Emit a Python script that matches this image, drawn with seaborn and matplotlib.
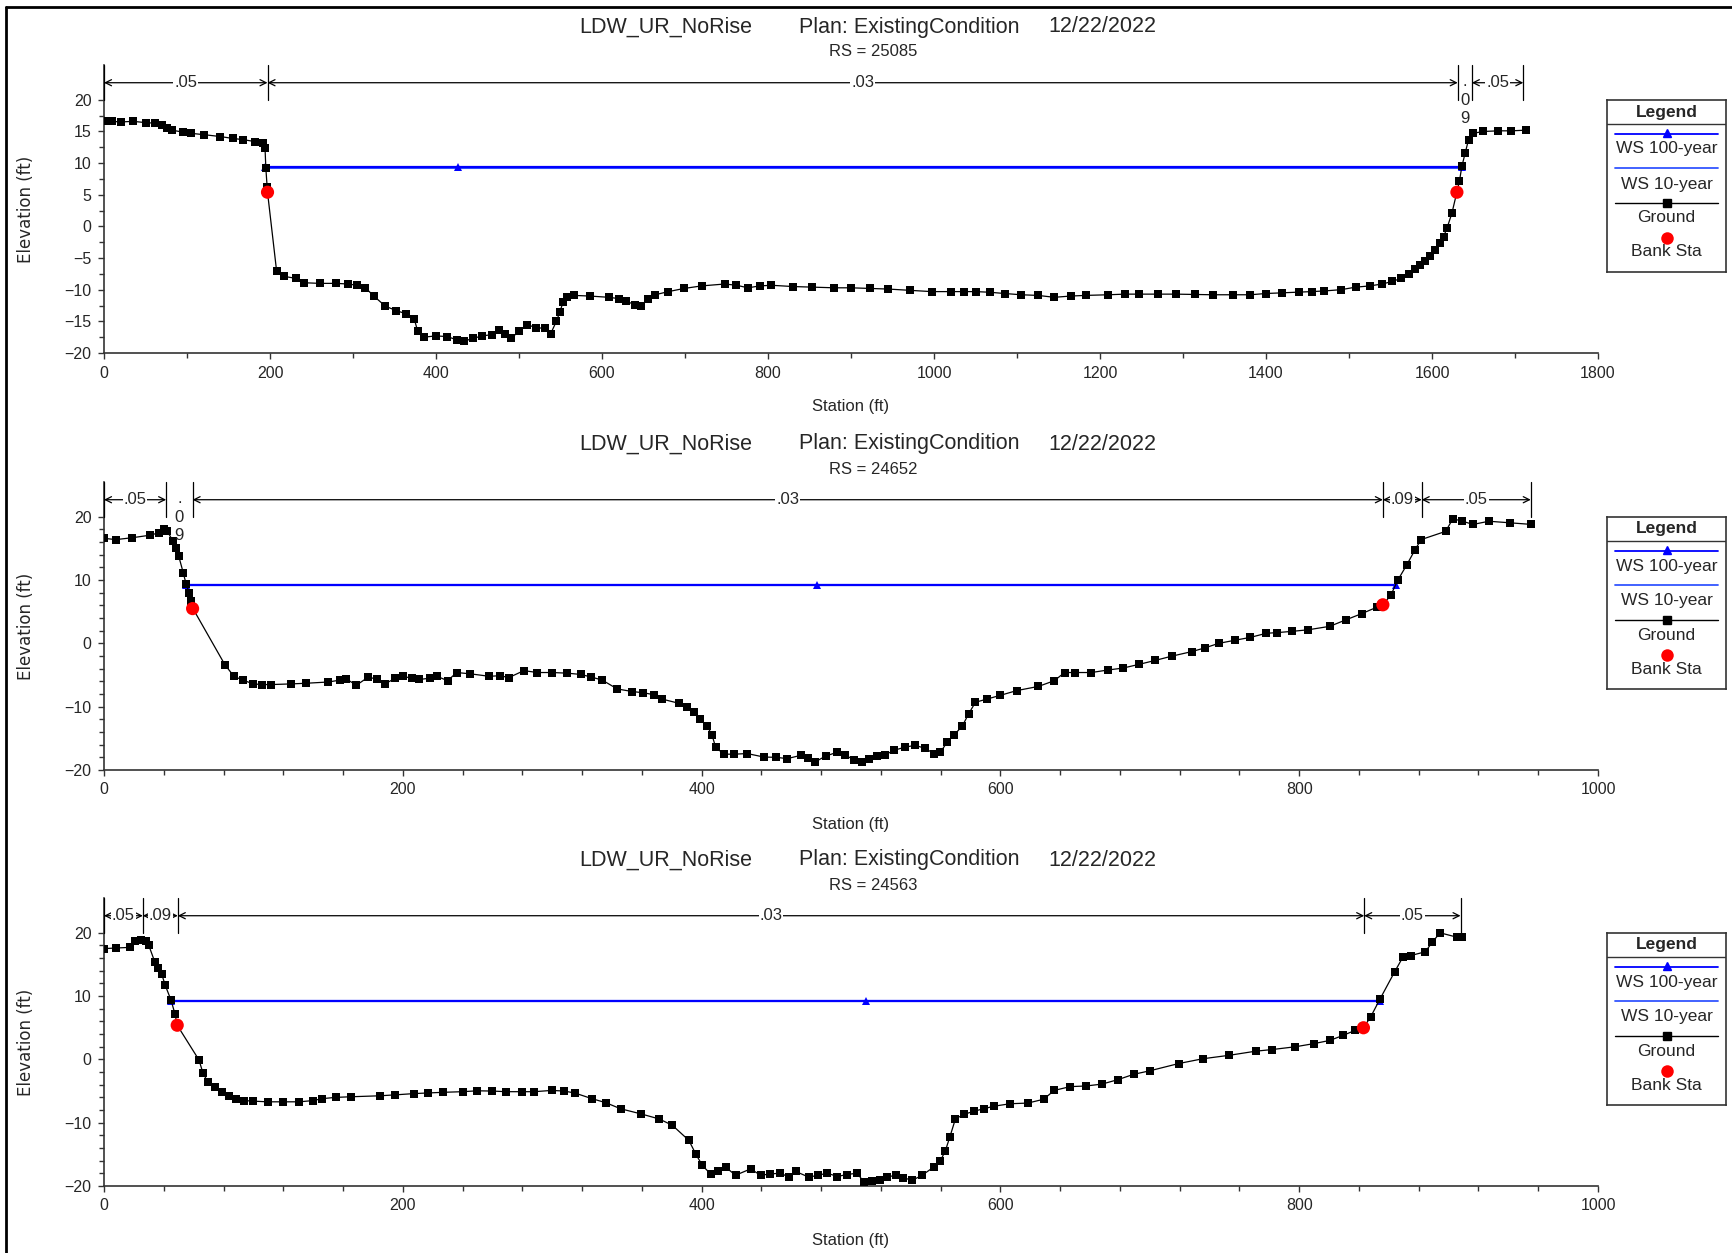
import matplotlib
matplotlib.use("Agg")
import matplotlib.pyplot as plt
from matplotlib.lines import Line2D
from matplotlib.ticker import MultipleLocator, FixedLocator
import seaborn as sns

plan_title = "LDW_UR_NoRise"
plan_name = "Plan: ExistingCondition"
plan_date = "12/22/2022"
legend_labels = ["WS 100-year", "WS 10-year", "Ground", "Bank Sta"]

# RS 25085
rs_1 = "25085"
sta_1 = [0, 10, 20, 35, 50, 62, 70, 76, 82, 95, 105, 120, 140, 155, 168, 182, 192, 194, 195, 196.5, 197,
         208, 217, 231, 241, 260, 280, 294, 305, 315, 325, 339, 352, 364, 374, 378, 385, 400, 413, 425,
         434, 445, 455, 468, 476, 483, 490, 500, 510, 520, 531, 538, 545, 549, 553, 558, 566, 585, 608,
         620, 629, 640, 647, 655, 664, 680, 699, 720, 748, 762, 776, 790, 804, 830, 853, 880, 900, 923,
         945, 971, 997, 1020, 1036, 1050, 1067, 1085, 1105, 1125, 1145, 1165, 1183, 1210, 1230, 1247,
         1270, 1291, 1315, 1336, 1360, 1381, 1400, 1419, 1440, 1455, 1470, 1490, 1508, 1525, 1540, 1552,
         1563, 1572, 1579, 1586, 1592, 1598, 1604, 1610, 1614, 1618, 1624, 1630, 1633, 1636, 1640, 1644,
         1649, 1662, 1680, 1695, 1713]
elev_1 = [16.6, 16.6, 16.5, 16.6, 16.4, 16.3, 16.0, 15.5, 15.2, 14.9, 14.7, 14.5, 14.2, 13.9, 13.7, 13.4,
          13.1, 12.4, 9.2, 6.3, 5.4, -7.1, -7.9, -8.2, -8.9, -9.0, -9.0, -9.1, -9.3, -9.7, -11.0, -12.6,
          -13.3, -13.8, -14.7, -16.6, -17.5, -17.3, -17.4, -17.9, -18.1, -17.7, -17.3, -17.1, -16.3,
          -17.0, -17.7, -16.6, -15.5, -16.0, -16.1, -17.0, -15.0, -13.6, -12.0, -11.2, -10.9, -11.0,
          -11.2, -11.4, -11.8, -12.4, -12.5, -11.5, -10.8, -10.3, -9.8, -9.4, -9.1, -9.3, -9.7, -9.4,
          -9.3, -9.5, -9.6, -9.7, -9.7, -9.8, -9.9, -10.1, -10.3, -10.3, -10.3, -10.3, -10.4, -10.6,
          -10.8, -10.9, -11.2, -11.0, -10.9, -10.8, -10.7, -10.7, -10.7, -10.7, -10.75, -10.8, -10.8,
          -10.8, -10.6, -10.5, -10.4, -10.3, -10.2, -10.0, -9.6, -9.4, -9.1, -8.7, -8.2, -7.5, -6.8,
          -6.1, -5.4, -4.6, -3.7, -2.7, -1.6, -0.3, 2.1, 5.4, 7.1, 9.5, 11.6, 13.7, 14.7, 15.0, 15.1,
          15.1, 15.2]
ws_sta_1 = [193.5, 427, 1636]
ws100_1 = [9.35, 9.35, 9.35]
ws10_1 = [9.3, 9.3, 9.3]
bank_sta_1 = [197, 1630]
bank_elev_1 = [5.4, 5.4]
n_break_1 = [0, 197, 1631, 1648, 1710]
n_val_1 = [".05", ".03", ".09", ".05"]

# RS 24652
rs_2 = "24652"
sta_2 = [0, 8, 19, 31, 37, 40, 42.5, 46, 48, 50, 53, 55, 57, 58, 59.3, 81, 87, 93, 100, 106, 112, 125,
         135, 150, 158, 162, 169, 177, 183, 188, 195, 200, 206, 211, 218, 223, 230, 236, 245, 258, 265,
         271, 281, 290, 300, 310, 319, 326, 333.5, 343.6, 353.6, 361, 368, 373.6, 384.6, 390, 394.9,
         399, 403.8, 407, 409.4, 414.9, 422, 430.5, 441.6, 450, 457.3, 466.2, 471, 476.2, 483, 490.7,
         496, 501.8, 507.4, 512, 517.5, 523, 528.6, 536, 543, 549.8, 555.4, 559.9, 564.3, 568.8, 574.4,
         578.8, 583.3, 591, 600, 611, 625.4, 636, 643, 650, 660.9, 672, 682, 693, 703.4, 715, 728, 737,
         746, 757, 767.3, 778, 785, 795, 806, 820.5, 831, 841.8, 851.8, 856, 861.3, 866, 872, 877.3,
         881.6, 898, 902.9, 909.2, 916.4, 927, 941, 955.4]
elev_2 = [16.6, 16.4, 16.7, 17.1, 17.5, 18.0, 17.7, 16.2, 15.0, 13.8, 11.2, 9.35, 8.0, 6.7, 5.6, -3.4,
          -5.2, -5.8, -6.4, -6.5, -6.5, -6.4, -6.3, -6.1, -5.8, -5.6, -6.6, -5.3, -5.7, -6.4, -5.5, -5.2,
          -5.5, -5.7, -5.5, -5.2, -5.9, -4.6, -4.8, -5.2, -5.1, -5.4, -4.3, -4.6, -4.6, -4.7, -4.9, -5.3,
          -5.8, -7.2, -7.6, -7.8, -8.1, -8.8, -9.45, -10.1, -10.9, -11.9, -13.1, -14.5, -16.4, -17.5,
          -17.5, -17.4, -17.95, -18.0, -18.2, -17.7, -18.1, -18.7, -17.8, -17.2, -17.6, -18.4, -18.7,
          -18.2, -17.8, -17.6, -16.9, -16.4, -16.1, -16.6, -17.4, -17.2, -15.6, -14.5, -13.1, -11.1,
          -9.3, -8.8, -8.2, -7.45, -6.8, -5.9, -4.6, -4.6, -4.6, -4.2, -3.9, -3.3, -2.7, -2.0, -1.3,
          -0.7, 0.0, 0.5, 0.95, 1.6, 1.7, 1.9, 2.15, 2.7, 3.7, 4.7, 5.7, 6.1, 7.6, 10.0, 12.4, 14.7,
          16.4, 17.7, 19.7, 19.3, 18.8, 19.3, 19.05, 18.8]
ws_sta_2 = [55, 477, 865]
ws100_2 = [9.26, 9.26, 9.26]
ws10_2 = [9.2, 9.2, 9.2]
bank_sta_2 = [59.3, 856]
bank_elev_2 = [5.5, 6.1]
n_break_2 = [0, 41.6, 59.3, 856, 882, 955]
n_val_2 = [".05", ".09", ".03", ".09", ".05"]

# RS 24563
rs_3 = "24563"
sta_3 = [0, 8, 17.5, 21, 25, 28, 30, 34, 36, 38.6, 41, 44.8, 47.5, 49, 63.6, 66.3, 69.4, 74, 79, 84,
         88.6, 94, 100, 110, 120, 130.8, 140, 146, 155, 165.4, 184.5, 195, 207.6, 217, 226.8, 240,
         249.8, 260, 269, 280, 288, 299.7, 308, 315, 326.6, 336, 345.8, 359.3, 371.5, 380.4, 391.5,
         396, 400.5, 406, 411, 416, 422.7, 432.8, 439.5, 446, 452.8, 458.4, 462.9, 471.8, 478, 484.1,
         490.8, 497, 504.2, 508.6, 514, 519.7, 524, 529.8, 535, 541, 547.6, 555.4, 559.9, 563.2, 566.1,
         569.9, 575.4, 582.1, 588.8, 595.5, 606.7, 618.3, 628.9, 636, 646.7, 657.3, 668, 678.6, 689.3,
         700, 719.4, 735.4, 753.2, 770.9, 781.6, 797.5, 810, 820.5, 829.4, 837.6, 843, 847.8, 854,
         863.8, 869.5, 874.5, 884.4, 889, 894.3, 905.7, 909]
elev_3 = [17.5, 17.6, 17.7, 18.7, 18.9, 18.7, 18.0, 15.4, 14.5, 13.5, 11.7, 9.4, 7.2, 5.4, -0.1, -2.2,
          -3.5, -4.4, -5.1, -5.8, -6.3, -6.5, -6.6, -6.7, -6.7, -6.7, -6.5, -6.2, -6.0, -5.9, -5.75,
          -5.6, -5.4, -5.3, -5.2, -5.1, -4.96, -5.0, -5.1, -5.1, -5.1, -4.9, -5.0, -5.3, -6.2, -6.85,
          -7.8, -8.6, -9.4, -10.4, -12.8, -14.9, -16.75, -18.1, -17.6, -17.0, -18.3, -17.3, -18.3,
          -18.1, -17.97, -18.6, -17.7, -18.6, -18.3, -17.97, -18.5, -18.2, -17.97, -19.4, -19.2, -19.1,
          -18.6, -18.3, -18.7, -19.1, -18.3, -17.0, -16.0, -14.4, -12.3, -9.4, -8.7, -8.2, -7.8, -7.4,
          -7.0, -6.9, -6.3, -4.9, -4.3, -4.2, -3.9, -3.2, -2.35, -1.8, -0.65, 0.1, 0.65, 1.3, 1.55,
          2.0, 2.5, 3.0, 3.8, 4.6, 5.0, 6.7, 9.5, 13.8, 16.2, 16.4, 17.0, 18.5, 20.0, 19.3, 19.3]
ws_sta_3 = [44.8, 510, 854]
ws100_3 = [9.3, 9.3, 9.3]
ws10_3 = [9.25, 9.25, 9.25]
bank_sta_3 = [49, 843]
bank_elev_3 = [5.4, 5.0]
n_break_3 = [0, 26, 49.4, 843.5, 908]
n_val_3 = [".05", ".09", ".03", ".05"]

### Styling
sns.set_style("ticks")
plt.rcParams['font.family'] = ['Liberation Sans', 'DejaVu Sans']

W, H = 1732, 1253
WS100_COLOR = "#0000ff"
WS10_COLOR = "#3355ff"
AXIS_COLOR = "#333333"


def fx(px):
    return px / W


def fy(py):
    return 1 - py / H


fig = plt.figure(figsize=(W / 100, H / 100), dpi=100)

# outer frame (only top and left edge show in the export)
fig.add_artist(Line2D([fx(6), fx(6)], [0, fy(7)], color="black", lw=2, transform=fig.transFigure))
fig.add_artist(Line2D([fx(6), 1], [fy(7), fy(7)], color="black", lw=2, transform=fig.transFigure))

Y_TOP = 25.5
N_LINE = 22.7


def draw_n_values(ax, breaks, labels, px_per_unit):
    # vertical boundary ticks above the plot
    for b in breaks:
        ax.plot([b, b], [20, Y_TOP], color="black", lw=0.9, clip_on=False, zorder=3)
    for b0, b1, lab in zip(breaks[:-1], breaks[1:], labels):
        mid = (b0 + b1) / 2
        if (b1 - b0) * px_per_unit < 30:
            # too narrow: label is stacked vertically, one character per row
            offsets = [-0.5, -2.8, -5.6]
            for ch, off in zip(lab, offsets):
                ax.text(mid, N_LINE + off, ch, ha="center",
                        va="baseline" if ch == "." else "center", fontsize=12, zorder=4)
            continue
        ax.annotate("", xy=(b1, N_LINE), xytext=(b0, N_LINE),
                    arrowprops=dict(arrowstyle="<->", lw=0.9, color="black",
                                    shrinkA=0, shrinkB=0, mutation_scale=11), zorder=3)
        ax.text(mid, N_LINE, lab, ha="center", va="center", fontsize=12, zorder=4,
                bbox=dict(fc="white", ec="none", pad=0.6))


def draw_legend(top_px):
    lax = fig.add_axes([fx(1607), fy(top_px + 172), 119 / W, 172 / H])
    lax.set_xlim(0, 119)
    lax.set_ylim(172, 0)
    lax.set_xticks([])
    lax.set_yticks([])
    for s in lax.spines.values():
        s.set_visible(True)
        s.set_color(AXIS_COLOR)
        s.set_linewidth(1.2)
    lax.text(59.5, 12, "Legend", ha="center", va="center", fontsize=12.5, weight="bold")
    lax.axhline(24, color=AXIS_COLOR, lw=1)
    lax.plot([8, 111], [34, 34], color=WS100_COLOR, lw=1.3)
    lax.plot([59.5], [33], marker="^", color=WS100_COLOR, ms=5.5)
    lax.plot([8, 111], [68, 68], color=WS10_COLOR, lw=1.3)
    lax.plot([8, 111], [103, 103], color="black", lw=1)
    lax.plot([59.5], [103], marker="s", color="black", ms=5.5)
    lax.plot([59.5], [138], marker="o", color="red", ms=9, mec="none")
    for yy, lab in zip([49, 84, 118, 152], legend_labels):
        lax.text(59.5, yy, lab, ha="center", va="center", fontsize=12.5)


panels = [
    dict(rs=rs_1, sta=sta_1, elev=elev_1, ws_sta=ws_sta_1, ws100=ws100_1, ws10=ws10_1,
         bsta=bank_sta_1, belev=bank_elev_1, nb=n_break_1, nv=n_val_1, xmax=1800,
         xmaj=200, xmin=100, ymaj=5, ymin=2.5, top=65, bottom=353),
    dict(rs=rs_2, sta=sta_2, elev=elev_2, ws_sta=ws_sta_2, ws100=ws100_2, ws10=ws10_2,
         bsta=bank_sta_2, belev=bank_elev_2, nb=n_break_2, nv=n_val_2, xmax=1000,
         xmaj=200, xmin=40, ymaj=10, ymin=2, top=482, bottom=770),
    dict(rs=rs_3, sta=sta_3, elev=elev_3, ws_sta=ws_sta_3, ws100=ws100_3, ws10=ws10_3,
         bsta=bank_sta_3, belev=bank_elev_3, nb=n_break_3, nv=n_val_3, xmax=1000,
         xmaj=200, xmin=40, ymaj=10, ymin=2, top=898, bottom=1186),
]

for p in panels:
    ax = fig.add_axes([fx(104), fy(p["bottom"]), 1494 / W, (p["bottom"] - p["top"]) / H])

    # water surfaces (10-year hidden under 100-year)
    sns.lineplot(x=p["ws_sta"], y=p["ws10"], ax=ax, color=WS10_COLOR, lw=1.5,
                 estimator=None, sort=False, zorder=2)
    sns.lineplot(x=p["ws_sta"], y=p["ws100"], ax=ax, color=WS100_COLOR, lw=1.6,
                 marker="^", markersize=6, markeredgewidth=0, estimator=None, sort=False, zorder=3)
    # ground
    sns.lineplot(x=p["sta"], y=p["elev"], ax=ax, color="black", lw=0.9, marker="s",
                 markersize=6.2, markeredgewidth=0, estimator=None, sort=False, zorder=4)
    # bank stations
    sns.scatterplot(x=p["bsta"], y=p["belev"], ax=ax, color="red", s=90, edgecolor="none", zorder=5)

    ax.set_xlim(0, p["xmax"])
    ax.set_ylim(-20, Y_TOP)
    ax.xaxis.set_major_locator(MultipleLocator(p["xmaj"]))
    ax.xaxis.set_minor_locator(MultipleLocator(p["xmin"]))
    ax.yaxis.set_major_locator(FixedLocator(list(range(-20, 21, p["ymaj"]))))
    minor_y = []
    v = -20.0
    while v <= 20:
        minor_y.append(v)
        v += p["ymin"]
    ax.yaxis.set_minor_locator(FixedLocator(minor_y))
    ax.tick_params(which="both", direction="out", length=4, width=1, color=AXIS_COLOR,
                   labelsize=11.5, pad=5)
    ax.tick_params(which="minor", length=3.5)
    for side in ["top", "right"]:
        ax.spines[side].set_visible(False)
    for side in ["left", "bottom"]:
        ax.spines[side].set_color(AXIS_COLOR)
        ax.spines[side].set_linewidth(1.2)
    ax.set_xlabel("")
    ax.set_ylabel("")
    ax.patch.set_alpha(0)

    draw_n_values(ax, p["nb"], p["nv"], 1494 / p["xmax"])

    # titles and axis labels
    title_y = p["top"] - 38
    fig.text(fx(579), fy(title_y), plan_title, fontsize=15.5, va="center", ha="left")
    fig.text(fx(799), fy(title_y), plan_name, fontsize=15.5, va="center", ha="left")
    fig.text(fx(1048), fy(title_y), plan_date, fontsize=15.5, va="center", ha="left")
    fig.text(fx(873), fy(title_y + 25), "RS = " + p["rs"], fontsize=12, va="center", ha="center")
    fig.text(fx(851), fy(p["bottom"] + 54), "Station (ft)", fontsize=12, va="center", ha="center")
    fig.text(fx(26), fy((p["top"] + p["bottom"]) / 2), "Elevation (ft)", fontsize=12,
             family="DejaVu Sans", rotation=90, va="center", ha="center")

    draw_legend(p["top"] + 35)

fig.savefig("out.png", dpi=100)
